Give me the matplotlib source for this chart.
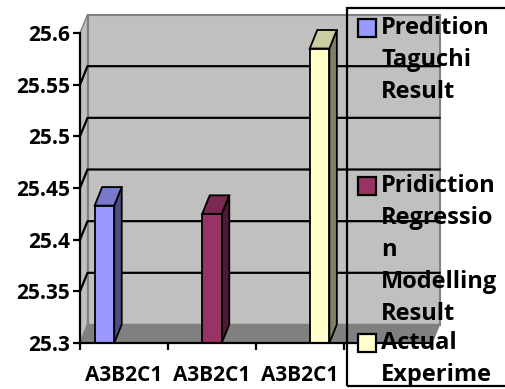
import matplotlib
matplotlib.use("Agg")
import matplotlib.pyplot as plt
from matplotlib.patches import Polygon, Rectangle
from matplotlib.transforms import IdentityTransform
import numpy as np

# datos del grafico
categorias = ["A3B2C1", "A3B2C1", "A3B2C1", ""]
valores = [25.433, 25.425, 25.585]
ticks_y = [25.3, 25.35, 25.4, 25.45, 25.5, 25.55, 25.6]
leyenda = [
    ["Predition", "Taguchi", "Result"],
    ["Pridiction", "Regressio", "n", "Modelling", "Result"],
    ["Actual", "Experime"],
]
colores = ["#9999FF", "#993366", "#FFFFCC"]

plt.rcParams['font.family'] = ['Open Sans', 'DejaVu Sans']
plt.rcParams['font.weight'] = 'bold'

DX, DY = 7.5, 18.5  # profundidad del efecto 3D (px)
ID = IdentityTransform()

fig = plt.figure(figsize=(5.05, 3.89), dpi=100)
ax = fig.add_axes([80 / 505, 46 / 389, 352 / 505, 310 / 389])
ax.set_xlim(0, len(categorias))
ax.set_ylim(ticks_y[0], ticks_y[-1])
ax.patch.set_visible(False)


def pt(x, y, d=0):
    px, py = ax.transData.transform((x, y))
    return (px + d * DX, py + d * DY)


def cara(puntos, fc, ec, lw=1.0, z=1):
    ax.add_patch(Polygon(puntos, closed=True, facecolor=fc, edgecolor=ec,
                         linewidth=lw, transform=ID, clip_on=False, zorder=z))


def sombra(color, f):
    c = np.array(matplotlib.colors.to_rgb(color))
    return tuple(c * f)


x0, x1 = 0, len(categorias)
y0, y1 = ticks_y[0], ticks_y[-1]

# pared de fondo y pared lateral
cara([pt(x0, y0, 1), pt(x1, y0, 1), pt(x1, y1, 1), pt(x0, y1, 1)], '#C0C0C0', '#808080', 1.5)
cara([pt(x0, y0, 0), pt(x0, y0, 1), pt(x0, y1, 1), pt(x0, y1, 0)], '#C0C0C0', '#808080', 1.0)

# lineas de division
for v in ticks_y[1:-1]:
    xs, ys = zip(pt(x0, v, 0), pt(x0, v, 1), pt(x1, v, 1))
    ax.plot(xs, ys, color='black', lw=1.6, transform=ID, clip_on=False, zorder=2)

# piso
cara([pt(x0, y0, 0), pt(x1, y0, 0), pt(x1, y0, 1), pt(x0, y0, 1)], '#808080', '#808080', 1.0, z=3)

# barras (150% de separacion entre grupos)
ancho = 1 / 4.5
for i, (v, c) in enumerate(zip(valores, colores)):
    a = i + 0.75 * ancho + i * ancho
    b = a + ancho
    cara([pt(b, y0, 0), pt(b, y0, 1), pt(b, v, 1), pt(b, v, 0)], sombra(c, 0.5), 'black', 1.3, z=4)
    cara([pt(a, v, 0), pt(b, v, 0), pt(b, v, 1), pt(a, v, 1)], sombra(c, 0.8), 'black', 1.3, z=4)
    cara([pt(a, y0, 0), pt(b, y0, 0), pt(b, v, 0), pt(a, v, 0)], c, 'black', 1.3, z=5)

# ejes
for s in ['top', 'right']:
    ax.spines[s].set_visible(False)
for s in ['left', 'bottom']:
    ax.spines[s].set_linewidth(1.6)
    ax.spines[s].set_zorder(6)
ax.set_yticks(ticks_y)
ax.set_yticklabels([f"{t:g}" for t in ticks_y], fontsize=15, fontweight='bold')
ax.set_xticks(range(len(categorias) + 1))
ax.set_xticklabels([])
ax.set_xticks([i + 0.5 for i in range(len(categorias))], minor=True)
ax.set_xticklabels(categorias, minor=True, fontsize=15, fontweight='bold')
ax.tick_params(axis='y', direction='out', length=5, width=1.6, pad=2)
ax.tick_params(axis='x', which='major', direction='out', length=5, width=1.6)
ax.tick_params(axis='x', which='minor', length=0, pad=16)

# leyenda (sin relleno, encima del grafico)
caja = Rectangle((347, 3), 170, 378, transform=ID, facecolor='none',
                 edgecolor='black', linewidth=1.6, zorder=10)
fig.patches.append(caja)
inicio = [28, 186, 343]
for lineas, y, c in zip(leyenda, inicio, colores):
    fig.patches.append(Rectangle((358, 389 - y - 9), 18, 18, transform=ID,
                                 facecolor=c, edgecolor='black', linewidth=1.6, zorder=11))
    for k, s in enumerate(lineas):
        fig.text(381 / 505, 1 - (y + k * 32) / 389, s, fontsize=17,
                 fontweight='bold', va='center', ha='left', zorder=12)

fig.savefig('out.png', dpi=100)
plt.close(fig)
